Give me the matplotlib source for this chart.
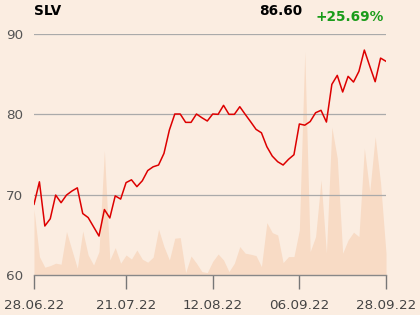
import numpy as np
import matplotlib
matplotlib.use("Agg")
import matplotlib.pyplot as plt

ticker = "SLV"
last_price = "86.60"
change = "+25.69%"

price = [68.8, 71.6, 66.1, 67.0, 69.95, 69.0, 69.95, 70.45, 70.85, 67.65,
         67.15, 66.0, 64.85, 68.15, 67.1, 69.85, 69.45, 71.5, 71.85, 71.0,
         71.73, 73.0, 73.47, 73.69, 75.14, 78.05, 80.04, 80.04, 79.0, 79.0,
         80.04, 79.58, 79.17, 80.04, 80.0, 81.12, 80.0, 80.0, 80.95, 80.0,
         79.08, 78.13, 77.7, 75.97, 74.8, 74.1, 73.69, 74.4, 74.97, 78.8,
         78.65, 79.1, 80.2, 80.5, 79.04, 83.73, 84.85, 82.78, 84.73, 84.02,
         85.35, 88.0, 86.0, 84.06, 87.0, 86.6]

volume = [32.9, 9.2, 3.9, 4.7, 5.9, 5.4, 21.7, 12.5, 3.4, 22.0,
          10.0, 5.0, 11.7, 62.2, 7.5, 13.7, 5.9, 10.0, 8.0, 12.5,
          7.9, 6.4, 8.9, 22.9, 14.2, 7.5, 18.4, 18.7, 1.2, 9.5,
          5.9, 1.7, 1.2, 6.8, 10.5, 7.5, 1.7, 5.9, 14.2, 10.9,
          10.4, 9.7, 4.2, 26.2, 21.2, 20.0, 6.2, 9.2, 9.2, 22.5,
          111.7, 11.7, 19.2, 47.5, 10.9, 73.9, 58.4, 10.9, 17.5, 21.4,
          19.2, 63.4, 41.7, 69.2, 45.9, 10.9]

tick_pos = [0, 17, 33, 49, 65]
tick_labels = ["28.06.22", "21.07.22", "12.08.22", "06.09.22", "28.09.22"]
y_ticks = [60, 70, 80, 90]

bg = "#fbede1"
x = np.arange(len(price))

fig = plt.figure(figsize=(4.2, 3.15), dpi=100, facecolor=bg)
ax = fig.add_axes([34/420, 1-275/315, 352/420, 241/315])
ax.set_facecolor(bg)

# volume on its own scale, drawn behind the price line
axv = ax.twinx()
axv.fill_between(x, volume, 0, color="#f8dbc5", lw=0)
axv.set_ylim(0, 120.5)
axv.axis("off")
ax.set_zorder(axv.get_zorder() + 1)
ax.patch.set_visible(False)
axv.patch.set_facecolor(bg)

ax.plot(x, price, color="#dd0000", lw=1.1)
ax.set_xlim(0, len(price) - 1)
ax.set_ylim(60, 90)

for v in y_ticks[1:]:
    ax.axhline(v, color="#aaaaaa", lw=0.9, zorder=0)

ax.set_yticks(y_ticks)
ax.tick_params(axis="y", length=0, pad=8, labelsize=9.7, labelcolor="#555555")
ax.set_xticks(tick_pos)
ax.set_xticklabels(tick_labels)
ax.tick_params(axis="x", length=10, width=1, color="#777777", pad=7,
               labelsize=9.7, labelcolor="#444444")

for s in ["top", "left", "right"]:
    ax.spines[s].set_visible(False)
ax.spines["bottom"].set_color("#888888")
ax.spines["bottom"].set_linewidth(1)

fig.text(34/420, 1-4/315, ticker, ha="left", va="top", fontsize=9.8,
         fontweight="bold", color="black")
fig.text(302/420, 1-4/315, last_price, ha="right", va="top", fontsize=9.8,
         fontweight="bold", color="black")
fig.text(384/420, 1-10/315, change, ha="right", va="top", fontsize=9.8,
         fontweight="bold", color="#1a9c1a")

fig.savefig("out.png", dpi=100, facecolor=bg)
